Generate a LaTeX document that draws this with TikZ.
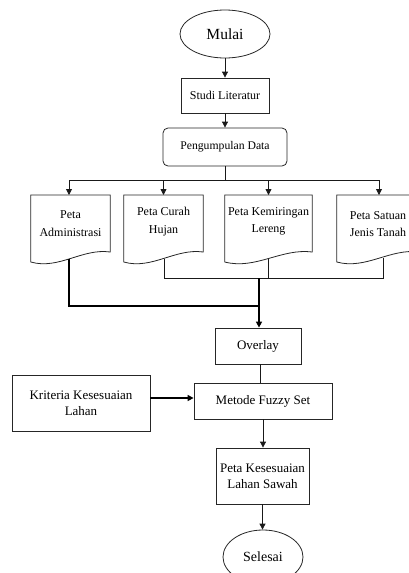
\documentclass[tikz,border=0pt]{standalone}
\usepackage{fontspec}
\setmainfont{Liberation Serif}
\usetikzlibrary{shapes.geometric,arrows.meta,calc}
\begin{document}
\begin{tikzpicture}[x=1pt,y=-1pt,
  line/.style={draw=black!90,line width=0.8pt},
  thickline/.style={draw=black,line width=1.8pt},
  arr/.style={-{Triangle[length=6pt,width=6pt]}},
  box/.style={rectangle,draw=black!85,line width=0.8pt,inner sep=0pt,align=center,font=\fontsize{13}{16}\selectfont},
  roundbox/.style={box,rounded corners=5pt},
  oval/.style={ellipse,draw=black!85,line width=0.8pt,inner sep=0pt},
  docbox/.style={rectangle,draw=none,inner sep=0pt,align=center,minimum height=55pt,font=\fontsize{12}{17.5}\selectfont},
  docline/.style={draw=black!85,line width=0.8pt}
]
\useasboundingbox (0,0) rectangle (408,573);

% main chain
\node[oval,minimum width=90pt,minimum height=48pt,font=\fontsize{15.5}{18}\selectfont] (mul) at (225,34) {Mulai};
\node[box,minimum width=88pt,minimum height=35pt,font=\fontsize{12}{14}\selectfont] (stu) at (225,95.5) {Studi Literatur};
\node[roundbox,minimum width=124pt,minimum height=38pt,font=\fontsize{11.7}{14}\selectfont] (pen) at (225,147) {Pengumpulan Data};

% documents
\node[docbox,minimum width=79pt] (adm) at (70.5,223.5) {Peta\\Administrasi};
\node[docbox,minimum width=79pt] (cur) at (163.5,221.5) {Peta Curah\\Hujan};
\node[docbox,minimum width=87pt] (kem) at (268.5,221.5) {Peta Kemiringan\\Lereng};
\node[docbox,minimum width=82pt] (sat) at (378,224) {Peta Satuan\\Jenis Tanah};

\foreach \n in {adm,cur,kem,sat}{
  \draw[docline] (\n.north west |- 0,195) -- (\n.north east |- 0,195) -- (\n.south east |- 0,252)
    .. controls ($(\n.south west |- 0,248)!0.65!(\n.south east |- 0,248)$) and ($(\n.south west |- 0,270)!0.35!(\n.south east |- 0,270)$)
    .. (\n.south west |- 0,262) -- cycle;
}
\coordinate (admB) at ($(adm.south |- 0,258.5)+(-1.5,0)$);
\coordinate (curB) at ($(cur.south |- 0,258.5)+(0.5,0)$);
\coordinate (kemB) at ($(kem.south |- 0,258.5)+(-0.5,0)$);
\coordinate (satB) at ($(sat.south |- 0,258)+(5,0)$);

\node[box,minimum width=86pt,minimum height=36pt] (ovl) at (258,346) {Overlay};
\node[box,minimum width=138pt,minimum height=36pt] (met) at (263,401) {Metode Fuzzy Set};
\node[box,minimum width=138pt,minimum height=56pt] (kri) at (81,403) {Kriteria Kesesuaian\\Lahan};
\node[box,minimum width=93pt,minimum height=56pt] (pks) at (262.5,476) {Peta Kesesuaian\\Lahan Sawah};
\node[oval,minimum width=80pt,minimum height=54pt,font=\fontsize{14}{16}\selectfont] (sel) at (263,557) {Selesai};

% connectors
\coordinate (br) at (225,180);
\draw[line,arr] (mul.south) -- (stu.north);
\draw[line,arr] (stu.south) -- (pen.north);
\draw[line] (pen.south) -- (br);
\draw[line,arr] (br) -- (69,180) -- (69,195);
\draw[line,arr] (br) -- (379,180) -- (379,195);
\draw[line,arr] (br -| cur.north) -- (cur.north |- 0,195);
\draw[line,arr] (br -| kem.north) -- (kem.north |- 0,195);

\coordinate (hj) at (259,278);
\coordinate (lj) at (259,306);
\draw[line] (curB) |- (satB |- hj) -- (satB);
\draw[line] (kemB) -- (kemB |- hj);
\draw[thickline] (admB) |- (lj);
\draw[thickline,arr] (hj) -- (ovl.north -| hj);

\draw[line] (ovl.south -| 260,0) -- (met.north -| 260,0);
\coordinate (kriA) at ($(kri.east)+(0,-5)$);
\draw[thickline,arr] (kriA) -- (kriA -| met.west);
\draw[line,arr] (met.south) -- (met.south |- pks.north);
\draw[line,arr] (pks.south) -- (pks.south |- sel.north);
\end{tikzpicture}
\end{document}
